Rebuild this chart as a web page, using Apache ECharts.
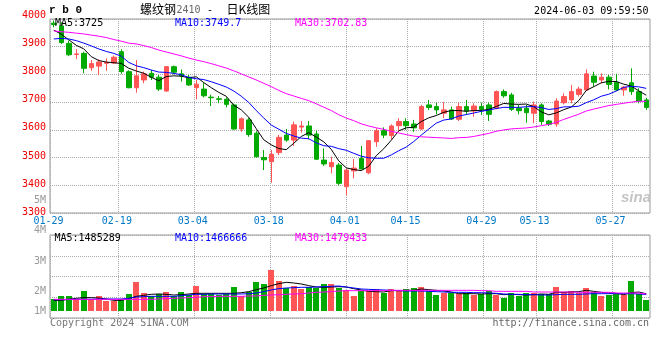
<!DOCTYPE html>
<html><head><meta charset="utf-8">
<script src="https://cdn.jsdelivr.net/npm/echarts/dist/echarts.min.js"></script>
<style>html,body{margin:0;padding:0;background:#fff}#c{width:660px;height:360px}</style>
</head><body><div id="c"></div>
<script>
const dates = ['01-29','01-30','01-31','02-01','02-02','02-05','02-06','02-07','02-08','02-19','02-20','02-21','02-22','02-23','02-26','02-27','02-28','02-29','03-01','03-04','03-05','03-06','03-07','03-08','03-11','03-12','03-13','03-14','03-15','03-18','03-19','03-20','03-21','03-22','03-25','03-26','03-27','03-28','03-29','04-01','04-02','04-03','04-08','04-09','04-10','04-11','04-12','04-15','04-16','04-17','04-18','04-19','04-22','04-23','04-24','04-25','04-26','04-29','04-30','05-06','05-07','05-08','05-09','05-10','05-13','05-14','05-15','05-16','05-17','05-20','05-21','05-22','05-23','05-24','05-27','05-28','05-29','05-30','05-31','06-03'];
const labelDates = ['01-29','02-19','03-04','03-18','04-01','04-15','04-29','05-13','05-27'];

const open  = [3985,3975,3912,3872,3876,3824,3830,3840,3841,3882,3810,3752,3780,3804,3790,3740,3828,3802,3790,3752,3747,3718,3712,3710,3690,3603,3636,3588,3500,3485,3518,3581,3563,3610,3614,3585,3491,3467,3473,3395,3452,3497,3445,3557,3597,3579,3615,3630,3621,3603,3690,3684,3660,3672,3638,3684,3668,3684,3690,3678,3738,3726,3678,3678,3660,3690,3632,3621,3698,3708,3728,3744,3794,3780,3790,3772,3744,3770,3738,3708];
const close = [3980,3915,3871,3874,3822,3839,3845,3843,3862,3810,3752,3795,3802,3790,3747,3828,3808,3795,3762,3765,3723,3716,3710,3692,3603,3640,3583,3503,3492,3512,3573,3563,3618,3614,3581,3494,3477,3482,3407,3455,3462,3459,3561,3597,3581,3614,3630,3615,3607,3684,3681,3672,3672,3639,3684,3668,3686,3674,3656,3738,3723,3674,3669,3662,3690,3630,3620,3704,3720,3738,3747,3802,3772,3790,3764,3744,3754,3738,3704,3681];
const low   = [3970,3910,3866,3855,3804,3813,3798,3813,3838,3802,3750,3734,3768,3780,3740,3737,3800,3774,3758,3710,3717,3686,3696,3681,3600,3593,3575,3500,3455,3409,3509,3557,3542,3590,3566,3492,3470,3443,3400,3365,3425,3457,3440,3539,3570,3566,3597,3600,3593,3600,3672,3656,3642,3636,3632,3654,3647,3654,3632,3674,3716,3668,3656,3626,3624,3618,3614,3611,3692,3696,3720,3741,3756,3768,3746,3740,3723,3726,3696,3672];
const high  = [3995,3988,3922,3891,3882,3852,3855,3858,3868,3891,3815,3852,3810,3816,3798,3830,3832,3818,3798,3780,3770,3727,3722,3717,3695,3645,3643,3595,3527,3527,3582,3603,3630,3632,3632,3597,3533,3503,3480,3461,3495,3542,3563,3606,3609,3620,3642,3642,3636,3690,3708,3698,3700,3684,3698,3708,3696,3698,3698,3742,3746,3734,3690,3690,3702,3696,3636,3714,3732,3762,3756,3818,3810,3804,3798,3802,3758,3822,3750,3716];

const ma5  = [3960,3945,3925,3905,3892.4,3864.2,3850.2,3844.6,3842.2,3839.8,3822.4,3812.4,3804.2,3789.8,3777.2,3792.4,3795,3793.6,3788,3791.6,3770.6,3752.2,3735.2,3721.2,3688.8,3672.2,3645.6,3604.2,3564.2,3546,3532.6,3528.6,3551.6,3576,3589.8,3574,3556.8,3529.6,3488.2,3463,3456.6,3453,3468.8,3506.8,3532,3562.4,3596.6,3607.4,3609.4,3630,3643.4,3651.8,3663.2,3669.6,3669.6,3667,3669.8,3670.2,3673.6,3684.4,3695.4,3693,3692,3693.2,3683.6,3665,3654.2,3661.2,3672.8,3682.4,3705.8,3742.2,3755.8,3769.8,3775,3774.4,3764.8,3758,3740.8,3725];
const ma10 = [3928,3930,3928,3922,3913,3903,3892,3883,3876,3866.1,3843.3,3831.3,3824.4,3816,3808.5,3807.4,3803.7,3798.9,3788.9,3784.4,3781.5,3773.6,3764.4,3754.6,3740.2,3721.4,3698.9,3669.7,3642.7,3617.4,3602.4,3587.1,3577.9,3570.1,3567.9,3553.3,3542.7,3540.6,3532.1,3526.4,3515.3,3504.9,3499.2,3497.5,3497.5,3509.5,3524.8,3538.1,3558.1,3581,3602.9,3624.2,3635.3,3639.5,3649.8,3655.2,3660.8,3666.7,3671.6,3677,3681.2,3681.4,3681.1,3683.4,3684,3680.2,3673.6,3676.6,3683,3683,3685.4,3698.2,3708.5,3721.3,3728.7,3740.1,3753.5,3756.9,3755.3,3749.7];
const ma30 = [3957,3954,3952,3949,3946,3942,3938,3933,3926,3920,3913,3910,3904,3897,3888,3881,3874,3867,3859,3852,3846,3839,3831,3823,3813,3802,3791,3780,3768,3756,3742.4,3730.7,3722.2,3713.6,3705.5,3694,3681.8,3669.7,3654.6,3642.7,3633.1,3621.9,3613.8,3607.4,3601.9,3594.7,3588.8,3582.8,3577.6,3574.9,3573.5,3572.1,3570.8,3569,3571.7,3572.7,3576.1,3581.8,3587.3,3594.8,3599.8,3603.5,3605.2,3606.8,3610.4,3615,3619.7,3627.1,3637.6,3647,3656.5,3667.9,3675,3681.4,3687.5,3691.8,3696,3700.1,3703.3,3702.83];

const volume = [1329000,1413000,1413000,1329000,1554000,1329000,1432000,1272000,1272000,1329000,
  1470000,1808000,1498000,1413000,1470000,1526000,1413000,1526000,1441000,1695000,
  1470000,1470000,1441000,1470000,1667000,1413000,1526000,1808000,1751000,2146000,
  1836000,1639000,1695000,1610000,1667000,1639000,1751000,1751000,1648000,1582000,
  1413000,1554000,1554000,1629000,1516000,1610000,1554000,1610000,1639000,1667000,
  1554000,1441000,1498000,1498000,1470000,1516000,1451000,1470000,1554000,1451000,
  1366000,1498000,1413000,1516000,1498000,1470000,1470000,1667000,1535000,1554000,
  1498000,1639000,1526000,1413000,1441000,1470000,1441000,1836000,1470000,1300000];
const volMa5 = [1300000,1300000,1329000,1357000,1376000,1376000,1366000,1338000,1300000,1300000,
  1347000,1413000,1441000,1470000,1479000,1470000,1451000,1460000,1479000,1498000,
  1498000,1498000,1498000,1498000,1498000,1516000,1545000,1601000,1648000,1714000,
  1770000,1808000,1789000,1761000,1714000,1676000,1667000,1676000,1685000,1676000,
  1629000,1592000,1554000,1545000,1535000,1573000,1573000,1582000,1582000,1620000,
  1601000,1582000,1563000,1535000,1488000,1488000,1488000,1479000,1488000,1488000,
  1460000,1470000,1460000,1451000,1460000,1479000,1470000,1526000,1526000,1535000,
  1545000,1582000,1554000,1526000,1507000,1498000,1460000,1516000,1535000,1485289];
const volMa10 = [1319000,1319000,1329000,1329000,1329000,1329000,1338000,1338000,1338000,1338000,
  1357000,1394000,1404000,1413000,1413000,1413000,1413000,1432000,1451000,1470000,
  1470000,1479000,1479000,1479000,1479000,1479000,1488000,1507000,1545000,1592000,
  1629000,1648000,1657000,1667000,1667000,1676000,1685000,1695000,1704000,1676000,
  1648000,1620000,1610000,1601000,1592000,1582000,1573000,1563000,1563000,1563000,
  1554000,1545000,1535000,1526000,1526000,1526000,1516000,1516000,1507000,1498000,
  1479000,1470000,1470000,1460000,1460000,1451000,1451000,1460000,1470000,1470000,
  1470000,1479000,1488000,1488000,1488000,1488000,1488000,1488000,1479000,1466666];
const volMa30 = [1329000,1329000,1329000,1329000,1329000,1329000,1329000,1329000,1329000,1329000,
  1329000,1329000,1329000,1329000,1338000,1347000,1357000,1366000,1376000,1385000,
  1404000,1404000,1413000,1413000,1413000,1413000,1423000,1423000,1441000,1451000,
  1460000,1470000,1479000,1488000,1507000,1526000,1535000,1545000,1563000,1573000,
  1573000,1573000,1573000,1573000,1573000,1582000,1582000,1582000,1582000,1582000,
  1582000,1582000,1582000,1582000,1582000,1582000,1582000,1573000,1573000,1554000,
  1554000,1554000,1554000,1554000,1535000,1535000,1535000,1535000,1535000,1535000,
  1526000,1526000,1526000,1526000,1526000,1507000,1507000,1507000,1507000,1479433];

const priceMin = 3300, priceMax = 4000, priceStep = 100;
const volTickLabels = ['1M','2M','3M','4M','5M'];
const VOL_BASE = 1000000;

const RED = '#ff5555', GREEN = '#00aa00';
const MONO = 'DejaVu Sans Mono';
const GRIDLINE = {show:true, lineStyle:{color:'#aaaaaa', width:1, type:[1,1]}};
const last = a => a[a.length-1];
const isLabel = (idx, val) => labelDates.indexOf(dates[idx]) >= 0;

const chart = echarts.init(document.getElementById('c'), null, {renderer:'canvas'});
const hiddenCat = (grid, gap) => ({type:'category', gridIndex:grid, data:dates, boundaryGap:gap, position:'bottom',
  axisLine:{show:false}, axisTick:{show:false}, axisLabel:{show:false}, splitLine:{show:false}});

const option = {
  animation:false,
  backgroundColor:'#ffffff',
  grid:[
    {left:50, top:19, width:600, height:194, show:true, borderColor:'#999', borderWidth:1, backgroundColor:'transparent', outerBoundsMode:'none'},
    {left:50, top:15.5, width:600, height:196.7, show:false, outerBoundsMode:'none'},
    {left:50, top:235, width:600, height:83, show:true, borderColor:'#999', borderWidth:1, backgroundColor:'transparent', outerBoundsMode:'none'},
    {left:50, top:200.5, width:600, height:121.1, show:false, outerBoundsMode:'none'}
  ],
  xAxis:[
    hiddenCat(0, true),
    {type:'category', gridIndex:0, data:dates, boundaryGap:false, position:'bottom', offset:0,
      axisLine:{show:false}, axisTick:{show:false},
      axisLabel:{show:true, interval:isLabel, margin:3, formatter:v => '{a|'+v+'}',
        rich:{a:{color:'#0078c8', fontFamily:MONO, fontSize:10, padding:[0,3,0,0]}}},
      splitLine:Object.assign({interval:isLabel}, GRIDLINE)},
    hiddenCat(2, true),
    {type:'category', gridIndex:2, data:dates, boundaryGap:false, position:'bottom',
      axisLine:{show:false}, axisTick:{show:false}, axisLabel:{show:false},
      splitLine:Object.assign({interval:isLabel}, GRIDLINE)},
    hiddenCat(1, true),
    hiddenCat(3, true)
  ],
  yAxis:[
    {type:'value', gridIndex:0, min:priceMin, max:priceMax, interval:priceStep,
      axisLine:{show:false}, axisTick:{show:false}, axisLabel:{show:false}, splitLine:GRIDLINE},
    {type:'value', gridIndex:1, min:priceMin, max:priceMax, interval:priceStep, position:'left',
      axisLine:{show:false}, axisTick:{show:false}, splitLine:{show:false},
      axisLabel:{show:true, color:'#ee0000', fontFamily:MONO, fontSize:10, margin:4, formatter:v => String(v)}},
    {type:'value', gridIndex:2, min:802800, max:3140800,
      axisLine:{show:false}, axisTick:{show:false}, axisLabel:{show:false}, splitLine:{show:false}},
    {type:'value', gridIndex:2, min:0, max:4, interval:1,
      axisLine:{show:false}, axisTick:{show:false}, axisLabel:{show:false}, splitLine:GRIDLINE},
    {type:'value', gridIndex:3, min:1, max:5, interval:1, position:'left',
      axisLine:{show:false}, axisTick:{show:false}, splitLine:{show:false},
      axisLabel:{show:true, margin:4,
        formatter:v => (v === 1 ? '{up|' : '{n|') + volTickLabels[v-1] + '}',
        rich:{n:{color:'#999', fontFamily:MONO, fontSize:10},
              up:{color:'#999', fontFamily:MONO, fontSize:10, padding:[0,0,20,0]}}}}
  ],
  series:[
    {type:'candlestick', xAxisIndex:0, yAxisIndex:0, barWidth:5,
      data: open.map((o,i)=>[o, close[i], low[i], high[i]]),
      itemStyle:{color:RED, color0:GREEN, borderColor:RED, borderColor0:GREEN, borderWidth:1}},
    {type:'line', xAxisIndex:0, yAxisIndex:0, data:ma5, symbol:'none', lineStyle:{color:'#000', width:1}, z:3},
    {type:'line', xAxisIndex:0, yAxisIndex:0, data:ma10, symbol:'none', lineStyle:{color:'#0000ff', width:1}, z:3},
    {type:'line', xAxisIndex:0, yAxisIndex:0, data:ma30, symbol:'none', lineStyle:{color:'#ff00ff', width:1}, z:3},
    {type:'custom', xAxisIndex:2, yAxisIndex:2,
      data: volume.map((v,i)=>({value:[i, v], itemStyle:{color: close[i] >= open[i] ? RED : GREEN}})),
      encode:{x:0, y:1},
      renderItem:function(params, api){
        const p = api.coord([api.value(0), api.value(1)]);
        const b = api.coord([api.value(0), VOL_BASE]);
        const w = Math.round(api.size([1,0])[0] * 0.8);
        const x0 = Math.round(p[0] - w/2), y0 = Math.round(p[1]), y1 = Math.round(b[1]);
        return {type:'rect', shape:{x:x0, y:y0, width:w, height:y1-y0}, style:{fill:api.visual('color')}};
      }},
    {type:'line', xAxisIndex:2, yAxisIndex:2, data:volMa5, symbol:'none', lineStyle:{color:'#000', width:1}, z:3},
    {type:'line', xAxisIndex:2, yAxisIndex:2, data:volMa10, symbol:'none', lineStyle:{color:'#0000ff', width:1}, z:3},
    {type:'line', xAxisIndex:2, yAxisIndex:2, data:volMa30, symbol:'none', lineStyle:{color:'#ff00ff', width:1}, z:3}
  ],
  graphic:[
    {type:'text', x:49, y:10.5, style:{text:'r b 0', font:'bold 11px "Liberation Mono"', fill:'#000', align:'left', verticalAlign:'middle'}},
    {type:'text', x:140, y:9.5, style:{text:'螺纹钢', font:'12px "Noto Sans CJK SC"', fill:'#000', align:'left', verticalAlign:'middle'}},
    {type:'text', x:176.5, y:10.5, style:{text:'2410', font:'10px "DejaVu Sans Mono"', fill:'#666', align:'left', verticalAlign:'middle'}},
    {type:'text', x:207, y:10.5, style:{text:'-', font:'10px "DejaVu Sans Mono"', fill:'#000', align:'left', verticalAlign:'middle'}},
    {type:'text', x:226.5, y:9.5, style:{text:'日K线图', font:'12px "Noto Sans CJK SC"', fill:'#000', align:'left', verticalAlign:'middle'}},
    {type:'text', x:648.5, y:11, style:{text:'2024-06-03 09:59:50', font:'10px "DejaVu Sans Mono"', fill:'#000', align:'right', verticalAlign:'middle'}},
    {type:'text', x:55, y:23.5, z:10, style:{text:'MA5:' + last(ma5), font:'10px "DejaVu Sans Mono"', fill:'#000', align:'left', verticalAlign:'middle'}},
    {type:'text', x:175, y:23.5, z:10, style:{text:'MA10:' + last(ma10), font:'10px "DejaVu Sans Mono"', fill:'#0000ff', align:'left', verticalAlign:'middle'}},
    {type:'text', x:295, y:23.5, z:10, style:{text:'MA30:' + last(ma30), font:'10px "DejaVu Sans Mono"', fill:'#ff00ff', align:'left', verticalAlign:'middle'}},
    {type:'text', x:54.5, y:238.5, z:10, style:{text:'MA5:' + last(volMa5), font:'10px "DejaVu Sans Mono"', fill:'#000', align:'left', verticalAlign:'middle'}},
    {type:'text', x:175, y:238.5, z:10, style:{text:'MA10:' + last(volMa10), font:'10px "DejaVu Sans Mono"', fill:'#0000ff', align:'left', verticalAlign:'middle'}},
    {type:'text', x:295, y:238.5, z:10, style:{text:'MA30:' + last(volMa30), font:'10px "DejaVu Sans Mono"', fill:'#ff00ff', align:'left', verticalAlign:'middle'}},
    {type:'text', x:50, y:323, style:{text:'Copyright 2024 SINA.COM', font:'10px "DejaVu Sans Mono"', fill:'#777', align:'left', verticalAlign:'middle'}},
    {type:'text', x:649, y:323.5, style:{text:'http://finance.sina.com.cn', font:'10px "DejaVu Sans Mono"', fill:'#666', align:'right', verticalAlign:'middle'}},
    {type:'text', x:621, y:198, style:{text:'sina', font:'italic bold 15px "Liberation Sans"', fill:'#c4c4c4', align:'left', verticalAlign:'middle'}}
  ]
};
chart.setOption(option);
</script>
</body></html>
